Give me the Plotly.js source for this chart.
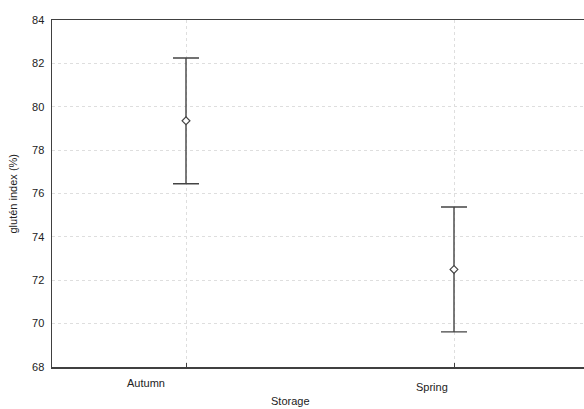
<!DOCTYPE html>
<html>
<head>
<meta charset="utf-8">
<script src="https://cdn.plot.ly/plotly-3.0.1.min.js"></script>
<style>html,body{margin:0;padding:0;overflow:hidden;background:#fff;}</style>
</head>
<body>
<div id="chart"></div>
<script>
const categories = ["Autumn", "Spring"];
const means = [79.35, 72.5];
const errors = [2.9, 2.88];
const yTicks = [68, 70, 72, 74, 76, 78, 80, 82, 84];
const xTitle = "Storage";
const yTitle = "glutén index (%)";

const trace = {
  x: [0, 1],
  y: means,
  type: "scatter",
  mode: "markers",
  marker: {symbol: "diamond", size: 6, color: "#ffffff", line: {color: "#444444", width: 1.2}},
  error_y: {type: "data", array: errors, visible: true, color: "#444444", thickness: 1.4, width: 13},
  hoverinfo: "skip"
};

const font = {family: "Liberation Sans, Arial, sans-serif", size: 11, color: "#222222"};

const annotations = [
  {x: 0, y: 0, xref: "x", yref: "paper", text: categories[0], showarrow: false, xshift: -40, yshift: -24, font: font},
  {x: 1, y: 0, xref: "x", yref: "paper", text: categories[1], showarrow: false, xshift: -22, yshift: -28, font: font},
  {x: 0.5, y: 0, xref: "x", yref: "paper", text: xTitle, showarrow: false, xshift: -30, yshift: -42, font: font},
  {x: 0, y: 0.5, xref: "paper", yref: "paper", text: yTitle, showarrow: false, textangle: -90, xshift: -48, font: font}
];

const layout = {
  width: 590, height: 409,
  margin: {l: 52, r: 2, t: 20, b: 42},
  paper_bgcolor: "#ffffff", plot_bgcolor: "#ffffff",
  showlegend: false,
  font: font,
  xaxis: {
    range: [-0.5, 1.5], tickvals: [0, 1], ticktext: ["", ""],
    showgrid: true, gridcolor: "#dedede", griddash: "dot", gridwidth: 1,
    showline: true, linecolor: "#404040", linewidth: 1.5, mirror: true,
    ticks: "inside", ticklen: 4, tickcolor: "#404040", zeroline: false, fixedrange: true
  },
  yaxis: {
    range: [68, 84], tickvals: yTicks, ticktext: yTicks.map(String),
    showgrid: true, gridcolor: "#dedede", griddash: "dot", gridwidth: 1,
    showline: true, linecolor: "#404040", linewidth: 1.5,
    ticks: "", ticklabelstandoff: 4, zeroline: false, fixedrange: true, tickfont: font
  },
  annotations: annotations
};

Plotly.newPlot("chart", [trace], layout, {staticPlot: true, displayModeBar: false});
</script>
</body>
</html>
